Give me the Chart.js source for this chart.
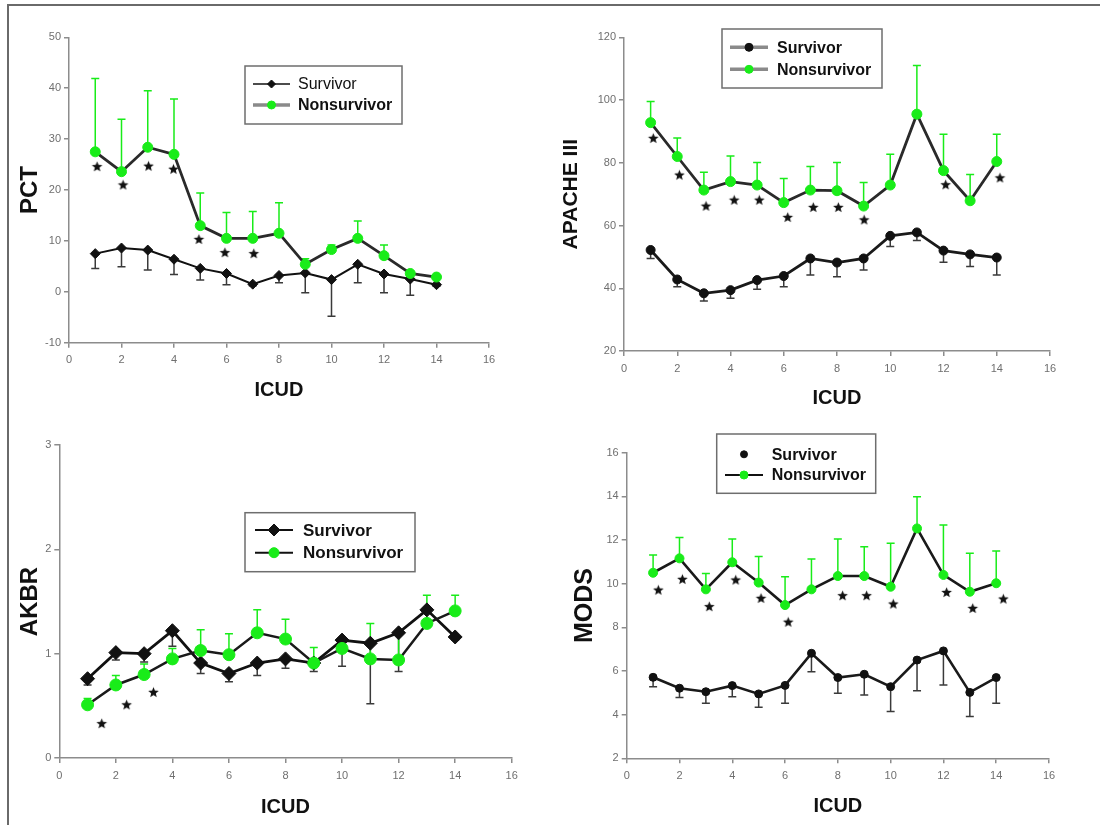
<!DOCTYPE html>
<html>
<head>
<meta charset="utf-8">
<script src="https://cdn.jsdelivr.net/npm/chart.js@4"></script>
<style>
html,body{margin:0;padding:0;background:#fff;}
body{width:1100px;height:825px;position:relative;overflow:hidden;}
.frame{position:absolute;left:7px;top:4px;width:1200px;height:900px;border-left:2px solid #6a6a6a;border-top:2px solid #6a6a6a;}
.panel{position:absolute;width:550px;height:413px;}
</style>
</head>
<body>
<div class="frame"></div>
<div class="panel" style="left:0;top:0"><canvas id="c1" width="550" height="413"></canvas></div>
<div class="panel" style="left:550px;top:0"><canvas id="c2" width="550" height="413"></canvas></div>
<div class="panel" style="left:0;top:412px"><canvas id="c3" width="550" height="413"></canvas></div>
<div class="panel" style="left:550px;top:412px"><canvas id="c4" width="550" height="413"></canvas></div>
<script>
// ---------- data ----------
const icud = [1,2,3,4,5,6,7,8,9,10,11,12,13,14];

const pctSurv    = [7.5,8.6,8.2,6.4,4.6,3.6,1.5,3.2,3.7,2.4,5.4,3.5,2.5,1.4];
const pctSurvErr = [2.9,3.7,3.9,3.0,2.3,2.2,0.3,1.4,3.9,7.2,3.6,3.7,3.2,0.3];
const pctNon     = [27.5,23.6,28.4,27.0,13.0,10.5,10.5,11.5,5.4,8.3,10.5,7.1,3.6,2.9];
const pctNonErr  = [14.4,10.3,11.1,10.9,6.4,5.1,5.3,6.0,1.1,0.9,3.4,2.1,0.4,0.3];
const pctStarX   = [1.07,2.06,3.03,3.98,4.95,5.94,7.04];
const pctStarY   = [24.6,21.0,24.7,24.1,10.3,7.7,7.5];

const apSurv     = [52.2,42.8,38.4,39.4,42.6,43.9,49.5,48.2,49.5,56.7,57.8,52.0,50.8,49.8];
const apSurvErr  = [2.7,2.3,2.5,2.6,2.9,3.4,5.3,4.5,3.7,3.4,2.6,3.7,3.9,5.6];
const apNon      = [92.8,82.0,71.3,74.0,72.9,67.3,71.3,71.1,66.2,72.9,95.5,77.5,67.9,80.4];
const apNonErr   = [6.7,5.9,5.7,8.2,7.2,7.7,7.5,9.0,7.5,9.8,15.5,11.6,8.4,8.7];
const apStarX    = [1.10,2.08,3.08,4.14,5.08,6.15,7.11,8.05,9.02,12.08,14.12];
const apStarY    = [87.8,76.1,66.2,68.1,68.1,62.6,65.8,65.8,61.8,73.0,75.2];

const akSurv     = [0.76,1.01,1.00,1.22,0.91,0.81,0.91,0.95,0.91,1.13,1.10,1.20,1.42,1.16];
const akSurvErr  = [0.06,0.07,0.08,0.15,0.10,0.08,0.12,0.09,0.08,0.25,0.58,0.37,0.03,0.03];
const akNon      = [0.51,0.70,0.80,0.95,1.03,0.99,1.20,1.14,0.91,1.05,0.95,0.94,1.29,1.41];
const akNonErr   = [0.06,0.09,0.10,0.10,0.20,0.20,0.22,0.19,0.15,0.07,0.34,0.26,0.27,0.15];
const akStarX    = [1.50,2.38,3.33];
const akStarY    = [0.33,0.51,0.63];

const moSurv     = [5.71,5.21,5.05,5.33,4.95,5.34,6.81,5.70,5.85,5.28,6.50,6.92,5.02,5.70];
const moSurvErr  = [0.43,0.42,0.53,0.51,0.61,0.82,0.84,0.72,0.95,1.14,1.40,1.56,1.11,1.18];
const moNon      = [10.50,11.16,9.74,10.98,10.05,9.02,9.74,10.35,10.35,9.86,12.53,10.40,9.63,10.02];
const moNonErr   = [0.81,0.96,0.73,1.07,1.19,1.30,1.39,1.70,1.34,1.99,1.45,2.29,1.76,1.48];
const moStarX    = [1.20,2.11,3.13,4.13,5.09,6.12,8.18,9.09,10.10,12.12,13.11,14.27];
const moStarY    = [9.71,10.20,8.95,10.17,9.33,8.24,9.45,9.45,9.07,9.60,8.87,9.30];

// ---------- styling helpers ----------
const FONT = '"Liberation Sans", Arial, Helvetica, sans-serif';
const GREEN = '#19ec19';
const AXIS = '#8c8c8c';
const TICK = '#6f6f6f';
Chart.defaults.font.family = FONT;

function pts(ys){ return icud.map((x,i)=>({x:x, y:ys[i]})); }
function starPts(xs, ys){ return xs.map((x,i)=>({x:x, y:ys[i]})); }

const starImg = (function(){
  const c = document.createElement('canvas'); c.width = 13; c.height = 13;
  const g = c.getContext('2d'); g.fillStyle = '#111'; g.beginPath();
  for (let k = 0; k < 10; k++) {
    const r = (k % 2) ? 2.4 : 5.6;
    const a = -Math.PI/2 + k*Math.PI/5;
    g.lineTo(6.5 + r*Math.cos(a), 6.8 + r*Math.sin(a));
  }
  g.closePath(); g.fill();
  return c;
})();

const errorBars = {
  id: 'errorBars',
  beforeDatasetsDraw(chart){
    const ctx = chart.ctx, xs = chart.scales.x, ys = chart.scales.y;
    chart.data.datasets.forEach(ds => {
      if (!ds.errors) return;
      ctx.save();
      ctx.strokeStyle = ds.errorColor; ctx.lineWidth = 1.5;
      ds.data.forEach((p, j) => {
        const e = ds.errors[j]; if (!e) return;
        const px = xs.getPixelForValue(p.x);
        const y0 = ys.getPixelForValue(p.y);
        const y1 = ys.getPixelForValue(p.y + ds.errorDir*e);
        ctx.beginPath();
        ctx.moveTo(px, y0); ctx.lineTo(px, y1);
        ctx.moveTo(px-4, y1); ctx.lineTo(px+4, y1);
        ctx.stroke();
      });
      ctx.restore();
    });
  }
};

const boxLegend = {
  id: 'boxLegend',
  afterDraw(chart, args, opts){
    if (!opts || !opts.box) return;
    const ctx = chart.ctx; const b = opts.box;
    ctx.save();
    ctx.fillStyle = '#fff';
    ctx.fillRect(b[0], b[1], b[2]-b[0], b[3]-b[1]);
    ctx.strokeStyle = '#6e6e6e'; ctx.lineWidth = 1.5;
    ctx.strokeRect(b[0], b[1], b[2]-b[0], b[3]-b[1]);
    opts.rows.forEach(r => {
      const ds = chart.data.datasets[r.ds];
      if (r.lw) {
        ctx.strokeStyle = r.lc; ctx.lineWidth = r.lw;
        ctx.beginPath(); ctx.moveTo(r.lx1, r.y); ctx.lineTo(r.lx2, r.y); ctx.stroke();
      }
      ctx.fillStyle = ds.pointBackgroundColor; ctx.strokeStyle = ds.pointBorderColor; ctx.lineWidth = 1;
      Chart.helpers.drawPoint(ctx, {pointStyle: ds.pointStyle, radius: r.mr, rotation: 0, borderWidth: 1}, r.mx, r.y);
      ctx.fillStyle = '#111'; ctx.font = r.font; ctx.textBaseline = 'middle'; ctx.textAlign = 'left';
      ctx.fillText(ds.label, r.tx, r.y + 1);
    });
    ctx.restore();
  }
};

function makeChart(id, p){
  const W = 550, H = 413;
  const gridOpts = {drawOnChartArea:false, drawTicks:true, tickLength:5, color:AXIS, lineWidth:1.5};
  const borderOpts = {display:true, color:AXIS, width:1.5};
  return new Chart(document.getElementById(id), {
    type: 'scatter',
    data: { datasets: [
      { label:'Survivor', data:pts(p.surv), showLine:true, borderColor:p.survLC, borderWidth:p.survLW,
        pointStyle:p.survStyle, pointRadius:p.survR, pointBackgroundColor:'#111', pointBorderColor:'#111', pointBorderWidth:1,
        errors:p.survErr, errorDir:-1, errorColor:'#3a3a3a', order:2 },
      { label:'Nonsurvivor', data:pts(p.non), showLine:true, borderColor:p.nonLC, borderWidth:p.nonLW,
        pointStyle:'circle', pointRadius:p.nonR, pointBackgroundColor:GREEN, pointBorderColor:GREEN, pointBorderWidth:1,
        errors:p.nonErr, errorDir:1, errorColor:GREEN, order:1 },
      { label:'P < 0.05', data:starPts(p.starX, p.starY), showLine:false, pointStyle:starImg, pointRadius:6, order:0 }
    ]},
    options: {
      responsive:false, animation:false, devicePixelRatio:1,
      events: [],
      layout: { autoPadding:false, padding:{left:0, top:p.area.t, right:W - p.area.r, bottom:0} },
      plugins: { legend:{display:false}, tooltip:{enabled:false}, boxLegend:p.legend },
      scales: {
        x: { type:'linear', min:0, max:16,
             ticks:{stepSize:2, font:{size:11}, color:TICK, padding:6},
             grid:gridOpts, border:borderOpts,
             title:{display:true, text:'ICUD', color:'#111', font:{size:20, weight:'bold'},
                    padding:{top:0, bottom: H - p.xTitleY - 12}},
             afterFit(s){ s.height = H - p.area.b; } },
        y: { type:'linear', min:p.yMin, max:p.yMax,
             ticks:{stepSize:p.yStep, font:{size:11}, color:TICK, padding:3},
             grid:gridOpts, border:borderOpts,
             title:{display:true, text:p.yTitle, color:'#111', font:{size:p.yFont, weight:'bold'},
                    padding:{top: p.yTitleX - p.yFont*0.6, bottom:0}},
             afterFit(s){ s.width = p.area.l; } }
      }
    },
    plugins: [errorBars, boxLegend]
  });
}

// Panel 1: PCT
makeChart('c1', {
  surv:pctSurv, survErr:pctSurvErr, non:pctNon, nonErr:pctNonErr, starX:pctStarX, starY:pctStarY,
  survStyle:'rectRot', survR:5, survLC:'#111', survLW:2, nonR:5, nonLC:'#2a2a2a', nonLW:2.8,
  area:{l:69, r:489, t:37.3, b:342.7}, yMin:-10, yMax:50, yStep:10,
  yTitle:'PCT', yFont:24, yTitleX:30, xTitleY:390,
  legend:{ box:[245,66,402,124], rows:[
    {ds:0, y:84, lx1:253, lx2:290, lc:'#111', lw:1.5, mx:271.5, mr:4, tx:298, font:'16px '+FONT},
    {ds:1, y:105, lx1:253, lx2:290, lc:'#8a8a8a', lw:3.5, mx:271.5, mr:4, tx:298, font:'bold 16px '+FONT}
  ]}
});

// Panel 2: APACHE III
makeChart('c2', {
  surv:apSurv, survErr:apSurvErr, non:apNon, nonErr:apNonErr, starX:apStarX, starY:apStarY,
  survStyle:'circle', survR:4.5, survLC:'#1a1a1a', survLW:2.8, nonR:5, nonLC:'#2a2a2a', nonLW:2.8,
  area:{l:74, r:500, t:37.3, b:351}, yMin:20, yMax:120, yStep:20,
  yTitle:'APACHE III', yFont:21, yTitleX:21.7, xTitleY:398,
  legend:{ box:[172,29,332,88], rows:[
    {ds:0, y:47.3, lx1:180, lx2:218, lc:'#8a8a8a', lw:3.5, mx:199, mr:4, tx:227, font:'bold 16px '+FONT},
    {ds:1, y:69.3, lx1:180, lx2:218, lc:'#8a8a8a', lw:3.5, mx:199, mr:4, tx:227, font:'bold 16px '+FONT}
  ]}
});

// Panel 3: AKBR
makeChart('c3', {
  surv:akSurv, survErr:akSurvErr, non:akNon, nonErr:akNonErr, starX:akStarX, starY:akStarY,
  survStyle:'rectRot', survR:7, survLC:'#111', survLW:2.8, nonR:6, nonLC:'#1a1a1a', nonLW:2.5,
  area:{l:59.3, r:511.7, t:33, b:346}, yMin:0, yMax:3, yStep:1,
  yTitle:'AKBR', yFont:24, yTitleX:30, xTitleY:395.7,
  legend:{ box:[245,100.7,415,159.7], rows:[
    {ds:0, y:118, lx1:255, lx2:293, lc:'#111', lw:2, mx:274, mr:6, tx:303, font:'bold 17px '+FONT},
    {ds:1, y:140.7, lx1:255, lx2:293, lc:'#111', lw:2, mx:274, mr:5, tx:303, font:'bold 17px '+FONT}
  ]}
});

// Panel 4: MODS
makeChart('c4', {
  surv:moSurv, survErr:moSurvErr, non:moNon, nonErr:moNonErr, starX:moStarX, starY:moStarY,
  survStyle:'circle', survR:4, survLC:'#1a1a1a', survLW:2.6, nonR:4.5, nonLC:'#1a1a1a', nonLW:2.6,
  area:{l:76.7, r:499, t:40.7, b:346.3}, yMin:2, yMax:16, yStep:2,
  yTitle:'MODS', yFont:25, yTitleX:35, xTitleY:394.7,
  legend:{ box:[166.7,22,325.7,81.3], rows:[
    {ds:0, y:42.3, lw:0, mx:194, mr:3.5, tx:221.7, font:'bold 16px '+FONT},
    {ds:1, y:63, lx1:175, lx2:213, lc:'#111', lw:2, mx:194, mr:4, tx:221.7, font:'bold 16px '+FONT}
  ]}
});
</script>
</body>
</html>
